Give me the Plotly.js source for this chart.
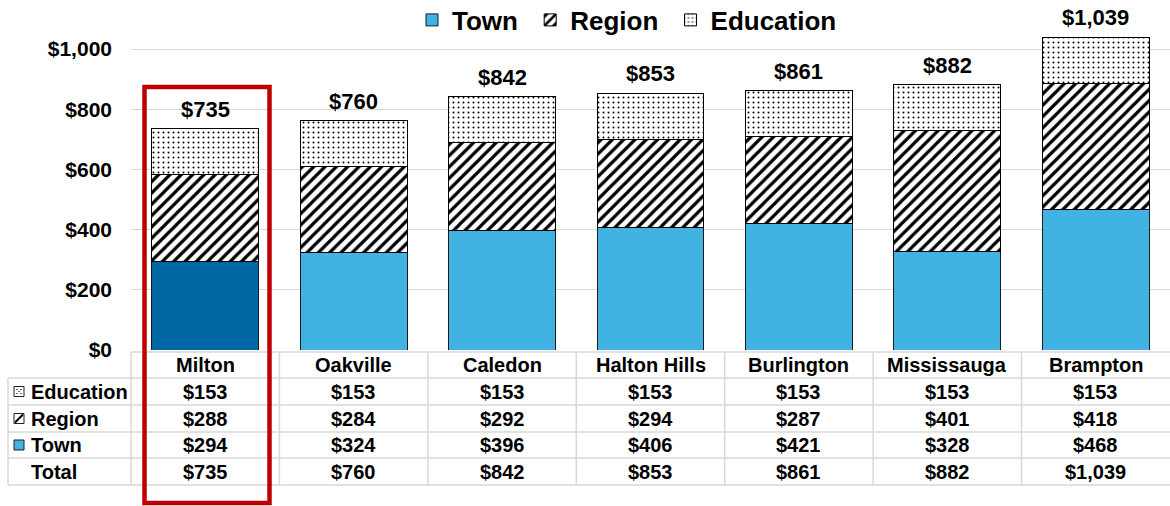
<!DOCTYPE html>
<html>
<head>
<meta charset="utf-8">
<script src="https://cdn.plot.ly/plotly-3.0.1.min.js"></script>
<style>html,body{margin:0;padding:0;background:#fff;}#chart{width:1170px;height:506px;}</style>
</head>
<body>
<div id="chart"></div>
<script>
// ---- data ----
const categories = ["Milton", "Oakville", "Caledon", "Halton Hills", "Burlington", "Mississauga", "Brampton"];
const town = [294, 324, 396, 406, 421, 328, 468];
const region = [288, 284, 292, 294, 287, 401, 418];
const education = [153, 153, 153, 153, 153, 153, 153];
const totals = [735, 760, 842, 853, 861, 882, 1039];
const yTicks = [0, 200, 400, 600, 800, 1000];
const rowLabels = ["Education", "Region", "Town", "Total"];
const highlight = "Milton";

// ---- style / layout helpers ----
const FONT = "Liberation Sans, Arial, sans-serif";
const W = 1170, H = 506;
const PX0 = 131, PX1 = 1170, PY0 = 10, PY1 = 350;
const PW = PX1 - PX0, PH = PY1 - PY0, CW = PW / categories.length;
const xp = px => (px - PX0) / PW;          // pixel -> paper x
const yp = py => (PY1 - py) / PH;          // pixel -> paper y
const LIGHT = "#41B3E3", DARK = "#0069A5", GRID = "#d9d9d9";
const money = v => "$" + v.toLocaleString("en-US");
const isHi = i => categories[i] === highlight;
const NB = "\u00a0";

const traces = [
  {
    type: "bar", name: "Town", x: categories, y: town.map((v, i) => isHi(i) ? v : null),
    marker: {color: DARK, line: {color: "#1a1a1a", width: 1}},
    showlegend: false, hoverinfo: "skip"
  },
  {
    type: "bar", name: "Town" + NB, x: categories, y: town.map((v, i) => isHi(i) ? null : v),
    marker: {color: LIGHT, line: {color: "#1a1a1a", width: 1}},
    hoverinfo: "skip"
  },
  {
    type: "bar", name: "Region" + NB, x: categories, y: region,
    marker: {color: "white", line: {color: "#000", width: 1},
      pattern: {shape: "/", fgcolor: "#000", bgcolor: "#fff", size: 8, solidity: 0.4, fillmode: "replace"}},
    hoverinfo: "skip"
  },
  {
    type: "bar", name: "Education", x: categories, y: education,
    marker: {color: "white", line: {color: "#000", width: 1},
      pattern: {shape: ".", fgcolor: "#000", bgcolor: "#fff", size: 5, solidity: 0.12, fillmode: "replace"}},
    hoverinfo: "skip"
  }
];

const shapes = [];
const annotations = [];
const line = (x0, y0, x1, y1, color, width) => shapes.push({
  type: "line", xref: "paper", yref: "paper", x0: xp(x0), y0: yp(y0), x1: xp(x1), y1: yp(y1),
  line: {color: color, width: width}, layer: "below"
});

// totals above bars
categories.forEach((c, i) => {
  annotations.push({xref: "x", yref: "y", x: c, y: totals[i], text: money(totals[i]), showarrow: false,
    yanchor: "bottom", xanchor: "center", yshift: 5,
    font: {family: FONT, size: 22, color: "#000", weight: "bold"}});
});

// table grid
line(PX0, 352, PX1, 352, GRID, 1.5);
[378, 405, 432, 458, 485].forEach(y => line(8, y, PX1, y, GRID, 1.5));
line(8, 378, 8, 485, GRID, 1.5);
for (let k = 0; k < categories.length; k++) {
  const x = PX0 + k * CW;
  line(x, 352, x, 485, GRID, 1.5);
}

// table text
const rowY = [365, 391.5, 418.5, 445, 471.5];
const tableRows = [education, region, town, totals];
categories.forEach((c, i) => {
  annotations.push({xref: "x", yref: "paper", x: c, y: yp(rowY[0]), text: c, showarrow: false,
    font: {family: FONT, size: 20, color: "#000", weight: "bold"}, xanchor: "center", yanchor: "middle"});
  tableRows.forEach((arr, r) => {
    annotations.push({xref: "x", yref: "paper", x: c, y: yp(rowY[r + 1]), text: money(arr[i]), showarrow: false,
      font: {family: FONT, size: 20, color: "#000", weight: "bold"}, xanchor: "center", yanchor: "middle"});
  });
});
rowLabels.forEach((lab, r) => {
  annotations.push({xref: "paper", yref: "paper", x: xp(29), y: yp(rowY[r + 1]), text: lab, showarrow: false,
    font: {family: FONT, size: 20, color: "#000", weight: "bold"}, xanchor: "left", yanchor: "middle"});
});

// table legend swatches
const sw = (cy, fill) => ({type: "rect", xref: "paper", yref: "paper",
  x0: xp(14), x1: xp(24), y0: yp(cy + 5), y1: yp(cy - 5), fillcolor: fill, line: {color: "#222", width: 1}});
shapes.push(sw(rowY[1], "#fff"));
[[17, -2], [21, -2], [17, 2], [21, 2], [19, 0]].forEach(d => shapes.push({type: "rect", xref: "paper", yref: "paper",
  x0: xp(d[0] - 0.6), x1: xp(d[0] + 0.6), y0: yp(rowY[1] + d[1] + 0.6), y1: yp(rowY[1] + d[1] - 0.6),
  fillcolor: "#000", line: {width: 0}}));
shapes.push(sw(rowY[2], "#fff"));
shapes.push({type: "line", xref: "paper", yref: "paper", x0: xp(15), y0: yp(rowY[2] + 4), x1: xp(23), y1: yp(rowY[2] - 4),
  line: {color: "#000", width: 2}});
shapes.push(sw(rowY[3], LIGHT));

// red highlight box
shapes.push({type: "rect", xref: "paper", yref: "paper",
  x0: xp(144.5), x1: xp(269.5), y0: yp(503), y1: yp(87),
  line: {color: "#C00000", width: 4.5}, fillcolor: "rgba(0,0,0,0)", layer: "above"});

const layout = {
  width: W, height: H,
  margin: {l: PX0, r: W - PX1, t: PY0, b: H - PY1, pad: 0, autoexpand: false},
  paper_bgcolor: "#fff", plot_bgcolor: "#fff",
  barmode: "stack", bargap: 0.28,
  font: {family: FONT, color: "#000"},
  showlegend: true,
  legend: {orientation: "h", traceorder: "normal", x: 0.4774, xanchor: "center", y: yp(20), yanchor: "middle",
    font: {family: FONT, size: 26, color: "#000", weight: "bold"}, bgcolor: "rgba(255,255,255,0)"},
  xaxis: {type: "category", showticklabels: false, showgrid: false, zeroline: false, showline: false,
    range: [-0.5, categories.length - 0.5], fixedrange: true},
  yaxis: {range: [0, PH / 0.301], tickmode: "array", tickvals: yTicks, ticktext: yTicks.map(money),
    showgrid: true, gridcolor: GRID, gridwidth: 1, zeroline: false, showline: false, ticks: "",
    ticklabelstandoff: 18,
    tickfont: {family: FONT, size: 21, color: "#000", weight: "bold"}, fixedrange: true},
  shapes: shapes,
  annotations: annotations
};

Plotly.newPlot("chart", traces, layout, {displayModeBar: false, staticPlot: true});
</script>
</body>
</html>
